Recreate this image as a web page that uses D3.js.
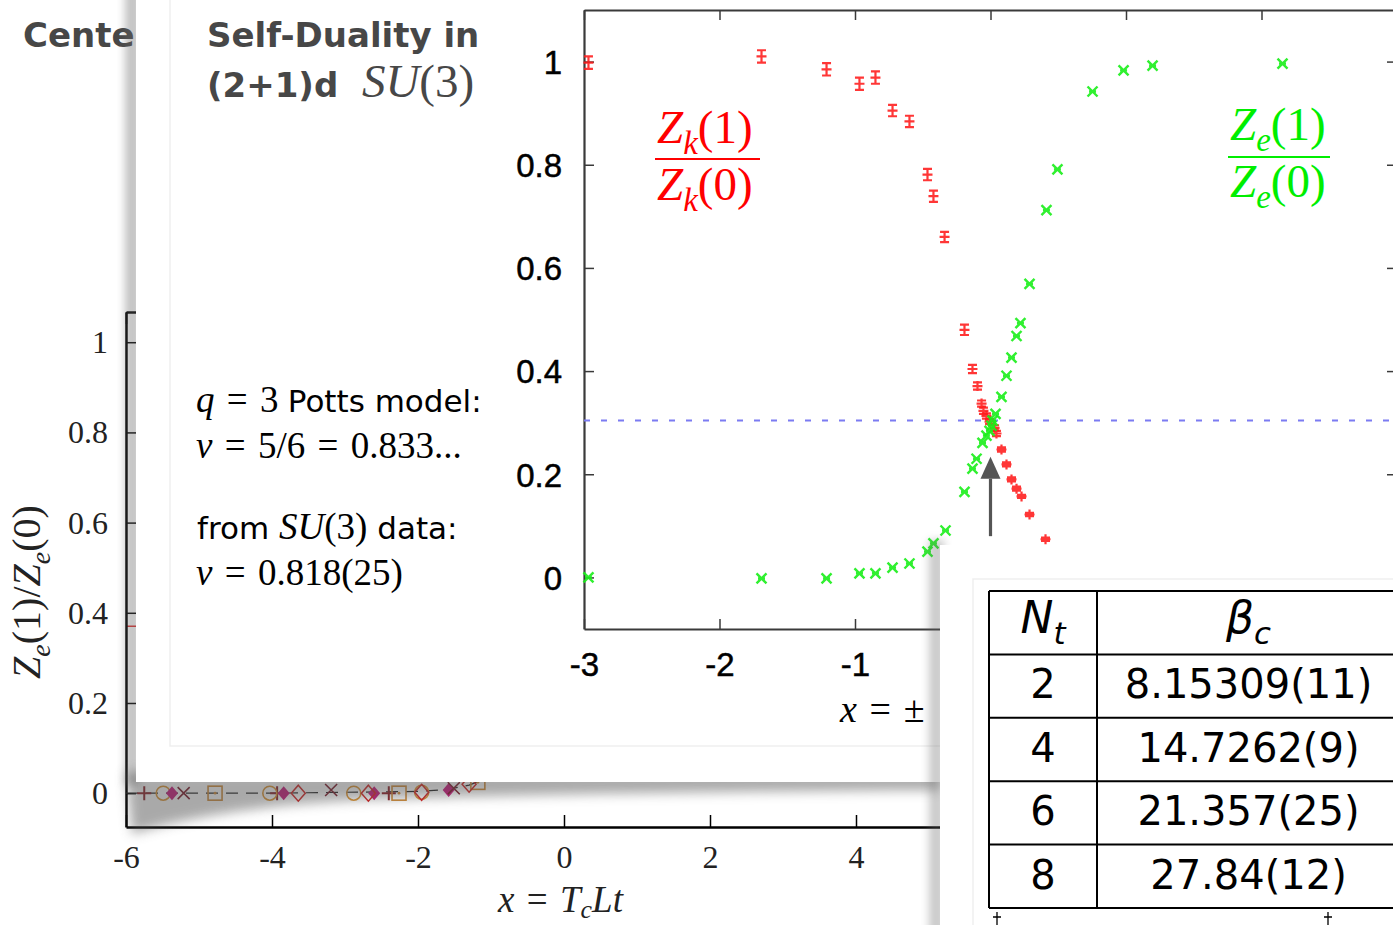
<!DOCTYPE html>
<html>
<head>
<meta charset="utf-8">
<script src="https://cdn.jsdelivr.net/npm/d3@7"></script>
<style>
body { margin: 0; background: #fff; }
svg { display: block; }
text { white-space: pre; }
</style>
</head>
<body>
<script>
const W = 1393, H = 925;

// ---- back slide: Z_e(1)/Z_e(0) against x = T_c L t (only the bottom-left corner shows)
const bgTicksX = [-6, -4, -2, 0, 2, 4, 6];
const bgTicksY = [0, 0.2, 0.4, 0.6, 0.8, 1];
const bgPlusX = [-5.75, -3.93, -2.40];
const bgPlusY = [0, 0, 0];
const bgCircleX = [-5.49, -4.03, -2.88, -1.95];
const bgCircleY = [0, 0, 0, 0.002];
const bgDiamondX = [-5.37, -3.84, -2.60, -1.58];
const bgDiamondY = [0, 0, 0, 0.007];
const bgCrossX = [-5.21, -3.19, -1.51];
const bgCrossY = [0, 0.007, 0.011];
const bgSquareX = [-4.78, -2.26, -1.18];
const bgSquareY = [0, 0, 0.024];
const bgOpenDiamondX = [-3.64, -2.68, -1.95, -1.30];
const bgOpenDiamondY = [0, 0, 0.002, 0.020];
const bgCurveX = [-6, -4, -3, -2.4, -2, -1.6, -1.3, -1.1];
const bgCurveY = [0, 0, 0.002, 0.003, 0.004, 0.008, 0.018, 0.03];
const bgRedLevel = 0.37;

// ---- middle slide: self-duality plot
const midTicksX = [-3, -2, -1, 0, 1, 2, 3];
const midTicksY = [0, 0.2, 0.4, 0.6, 0.8, 1];
const zkX = [-2.967, -1.690, -1.210, -0.967, -0.849, -0.723, -0.598, -0.465, -0.421, -0.339,
             -0.192, -0.133, -0.096, -0.066, -0.052, -0.030, -0.007, 0.030, 0.044, 0.081,
             0.118, 0.155, 0.192, 0.229, 0.288, 0.406];
const zkY = [0.998, 1.010, 0.985, 0.957, 0.969, 0.905, 0.884, 0.781, 0.739, 0.660,
             0.480, 0.404, 0.371, 0.337, 0.323, 0.313, 0.302, 0.290, 0.279, 0.248,
             0.219, 0.190, 0.172, 0.157, 0.122, 0.074];
const zkErr = [0.012, 0.012, 0.012, 0.012, 0.012, 0.011, 0.011, 0.011, 0.011, 0.010,
               0.010, 0.008, 0.007, 0.006, 0.006, 0.005, 0.005, 0.005, 0.005, 0.004,
               0.004, 0.004, 0.004, 0.003, 0.003, 0.003];
const zeX = [-2.967, -1.690, -1.210, -0.967, -0.849, -0.723, -0.598, -0.465, -0.421, -0.332,
             -0.192, -0.133, -0.103, -0.059, -0.030, -0.007, 0.007, 0.015, 0.037, 0.081,
             0.118, 0.155, 0.192, 0.221, 0.288, 0.413, 0.494, 0.753, 0.982, 1.196, 2.155];
const zeY = [0.000, -0.002, -0.002, 0.008, 0.008, 0.019, 0.027, 0.050, 0.066, 0.091,
             0.166, 0.211, 0.230, 0.261, 0.275, 0.284, 0.294, 0.304, 0.317, 0.350,
             0.391, 0.426, 0.468, 0.493, 0.569, 0.712, 0.791, 0.942, 0.983, 0.992, 0.996];
const pottsLevel = 0.304;
const arrowX = 0, arrowFrom = 0.08, arrowTo = 0.234;

// ---- front slide: table
const ntValues = ["2", "4", "6", "8"];
const betaValues = ["8.15309(11)", "14.7262(9)", "21.357(25)", "27.84(12)"];

const SERIF = "'Liberation Serif', 'DejaVu Serif', serif";
const SANS = "'DejaVu Sans', sans-serif";
const HELV = "'Liberation Sans', Arial, sans-serif";
const EQ = "\u2004=\u2004";   // TeX-like spacing around "="

const svg = d3.select("body").append("svg")
    .attr("width", W)
    .attr("height", H);

const defs = svg.append("defs");
[["blur4", 4], ["blur6", 6]].forEach(([id, s]) => {
    defs.append("filter").attr("id", id)
        .attr("x", "-50%").attr("y", "-50%").attr("width", "200%").attr("height", "200%")
        .append("feGaussianBlur").attr("stdDeviation", s);
});

// text made of pieces: {t, i (italic), sans, w (weight), sub, size}
function richText(g, x, y, parts, opts = {}) {
    const size = opts.size || 32;
    const shift = opts.shift || 0.24;
    const t = g.append("text")
        .attr("x", x).attr("y", y)
        .attr("fill", opts.fill || "#000")
        .attr("text-anchor", opts.anchor || "start")
        .attr("font-size", size);
    if (opts.transform) t.attr("transform", opts.transform);
    let shifted = false;
    parts.forEach(p => {
        const s = t.append("tspan").text(p.t)
            .attr("font-family", p.sans ? SANS : (p.helv ? HELV : SERIF))
            .attr("font-style", p.i ? "italic" : "normal")
            .attr("font-weight", p.w || "normal");
        if (p.size) s.attr("font-size", p.size);
        if (p.sub) {
            s.attr("font-size", size * 0.7);
            if (!shifted) s.attr("dy", size * shift);
            shifted = true;
        } else if (shifted) {
            s.attr("dy", -size * shift);
            shifted = false;
        }
    });
    return t;
}

// ================= BACK SLIDE =================
const back = svg.append("g");

back.append("text")
    .attr("x", 23).attr("y", 47)
    .attr("font-family", SANS).attr("font-weight", "bold")
    .attr("font-size", 34).attr("fill", "#474747")
    .text("Center");

const bx = d3.scaleLinear().domain([-6, 6]).range([126, 1002]);
const by = d3.scaleLinear().domain([-0.075, 1.067]).range([827, 312]);

back.append("line")
    .attr("x1", bx(-6)).attr("x2", bx(6))
    .attr("y1", by(bgRedLevel)).attr("y2", by(bgRedLevel))
    .attr("stroke", "#e03030").attr("stroke-width", 1.5);

const bgYAxis = back.append("g")
    .attr("transform", `translate(${bx(-6)},0)`)
    .call(d3.axisLeft(by).tickValues(bgTicksY).tickSize(-10).tickSizeOuter(0).tickPadding(18)
        .tickFormat(d => (d === 0 || d === 1) ? String(d) : d.toFixed(1)));
const bgXAxis = back.append("g")
    .attr("transform", `translate(0,${by.range()[0]})`)
    .call(d3.axisBottom(bx).tickValues(bgTicksX).tickSize(-12).tickSizeOuter(0).tickPadding(18)
        .tickFormat(d => d < 6 ? String(d) : ""));
const bgTopAxis = back.append("g")
    .attr("transform", `translate(0,${by.range()[1]})`)
    .call(d3.axisTop(bx).tickValues(bgTicksX).tickSize(-12).tickSizeOuter(0).tickFormat(""));

[bgYAxis, bgXAxis, bgTopAxis].forEach(a => {
    a.select(".domain").attr("stroke", "#000").attr("stroke-width", 2.5);
    a.selectAll(".tick line").attr("stroke", "#000").attr("stroke-width", 1.5);
    a.selectAll(".tick text")
        .attr("font-family", SERIF).attr("font-size", 32).attr("fill", "#222");
});
bgYAxis.selectAll(".tick text").attr("dy", "0.33em");

richText(back, 40, 592, [
    { t: "Z", i: true }, { t: "e", i: true, sub: true }, { t: "(1)/" },
    { t: "Z", i: true }, { t: "e", i: true, sub: true }, { t: "(0)" }
], { size: 40, anchor: "middle", transform: "rotate(-90,40,592)", fill: "#222" });

richText(back, 498, 912, [
    { t: "x", i: true }, { t: EQ }, { t: "T", i: true }, { t: "c", i: true, sub: true },
    { t: "L", i: true }, { t: "t", i: true }
], { size: 37, fill: "#222", shift: 0.15 });

back.append("path")
    .datum(d3.zip(bgCurveX, bgCurveY))
    .attr("fill", "none").attr("stroke", "#222").attr("stroke-width", 1.2)
    .attr("stroke-dasharray", "12,8")
    .attr("d", d3.line().x(d => bx(d[0])).y(d => by(d[1])));

function bgMarks(xs, ys, draw) {
    back.append("g").selectAll("g")
        .data(d3.zip(xs, ys))
        .join("g")
        .attr("transform", d => `translate(${bx(d[0])},${by(d[1])})`)
        .each(function () { draw(d3.select(this)); });
}
bgMarks(bgPlusX, bgPlusY, s => s.append("path").attr("d", "M-7,0H7M0,-7V7")
    .attr("stroke", "#8b1c24").attr("stroke-width", 2));
bgMarks(bgCircleX, bgCircleY, s => s.append("circle").attr("r", 7)
    .attr("fill", "none").attr("stroke", "#de9430").attr("stroke-width", 1.6));
bgMarks(bgDiamondX, bgDiamondY, s => s.append("path").attr("d", "M0,-7L6,0L0,7L-6,0Z")
    .attr("fill", "#c8157a"));
bgMarks(bgCrossX, bgCrossY, s => s.append("path").attr("d", "M-6,-6L6,6M-6,6L6,-6")
    .attr("stroke", "#7a1424").attr("stroke-width", 1.6));
bgMarks(bgSquareX, bgSquareY, s => {
    s.append("rect").attr("x", -7).attr("y", -7).attr("width", 14).attr("height", 14)
        .attr("fill", "none").attr("stroke", "#d08a36").attr("stroke-width", 1.6);
    s.append("circle").attr("r", 1.4).attr("fill", "#d08a36");
});
bgMarks(bgOpenDiamondX, bgOpenDiamondY, s => s.append("path").attr("d", "M0,-8L7,0L0,8L-7,0Z")
    .attr("fill", "none").attr("stroke", "#d42020").attr("stroke-width", 1.5));

// ================= MIDDLE SLIDE =================
const mid = svg.append("g");

// shadows of the lifted page (drawn over the back slide, under the page)
mid.append("rect").attr("x", 125).attr("y", -20).attr("width", 15).attr("height", 805)
    .attr("fill", "#666").attr("opacity", 0.4).attr("filter", "url(#blur4)");
mid.append("path")
    .attr("d", "M126,772L940,772L940,790C760,791 520,794 360,800C240,806 170,822 132,834Z")
    .attr("fill", "#555").attr("opacity", 0.5).attr("filter", "url(#blur6)");
mid.append("rect").attr("x", 136).attr("y", -10).attr("width", 1300).attr("height", 792)
    .attr("fill", "#fff");
mid.append("path").attr("d", "M170,0V746H1393")
    .attr("fill", "none").attr("stroke", "#efefef").attr("stroke-width", 1.5);

richText(mid, 207, 47, [{ t: "Self-Duality in", sans: true, w: "bold" }],
    { size: 34, fill: "#474747" });
richText(mid, 207, 97, [
    { t: "(2+1)d  ", sans: true, w: "bold" },
    { t: "SU", i: true, size: 47 }, { t: "(3)", size: 47 }
], { size: 34, fill: "#474747" });

richText(mid, 196, 412, [
    { t: "q", i: true }, { t: EQ + "3 " }, { t: "Potts model:", sans: true, size: 31 }
], { size: 37 });
richText(mid, 196, 458, [
    { t: "ν", i: true }, { t: EQ + "5/6" + EQ + "0.833..." }
], { size: 37 });
richText(mid, 197, 539, [
    { t: "from ", sans: true, size: 31 }, { t: "SU", i: true }, { t: "(3)" },
    { t: " data:", sans: true, size: 31 }
], { size: 37 });
richText(mid, 196, 585, [
    { t: "ν", i: true }, { t: EQ + "0.818(25)" }
], { size: 37 });

const mx = d3.scaleLinear().domain([-3, 3]).range([584, 1397]);
const my = d3.scaleLinear().domain([-0.1, 1.1]).range([629, 10]);

const midAxes = [
    mid.append("g").attr("transform", `translate(${mx.range()[0]},0)`)
        .call(d3.axisLeft(my).tickValues(midTicksY).tickSize(-10).tickSizeOuter(0).tickPadding(22)
            .tickFormat(d => (d === 0 || d === 1) ? String(d) : d.toFixed(1))),
    mid.append("g").attr("transform", `translate(${mx.range()[1]},0)`)
        .call(d3.axisRight(my).tickValues(midTicksY).tickSize(-10).tickSizeOuter(0).tickFormat("")),
    mid.append("g").attr("transform", `translate(0,${my.range()[0]})`)
        .call(d3.axisBottom(mx).tickValues(midTicksX).tickSize(-10).tickSizeOuter(0).tickPadding(24)
            .tickFormat(d => d < 0 ? String(d) : "")),   // the rest sits under the front slide
    mid.append("g").attr("transform", `translate(0,${my.range()[1]})`)
        .call(d3.axisTop(mx).tickValues(midTicksX).tickSize(-10).tickSizeOuter(0).tickFormat(""))
];
midAxes.forEach(a => {
    a.select(".domain").attr("stroke", "#3a3a3a").attr("stroke-width", 2.2);
    a.selectAll(".tick line").attr("stroke", "#3a3a3a").attr("stroke-width", 1.5);
    a.selectAll(".tick text")
        .attr("font-family", HELV).attr("font-size", 33).attr("fill", "#000")
        .attr("stroke", "#000").attr("stroke-width", 0.5);
});
midAxes[0].selectAll(".tick text").attr("dy", "0.36em");

richText(mid, 840, 722, [{ t: "x", i: true }, { t: EQ + "±" }], { size: 38 });

mid.append("line")
    .attr("x1", mx(-3)).attr("x2", mx(3))
    .attr("y1", my(pottsLevel)).attr("y2", my(pottsLevel))
    .attr("stroke", "#7b7bf2").attr("stroke-width", 2).attr("stroke-dasharray", "6,11");

// Z_k(1)/Z_k(0): red plus with error bars
mid.append("g").selectAll("path")
    .data(d3.range(zkX.length))
    .join("path")
    .attr("fill", "none").attr("stroke", "#ff1a1a").attr("stroke-width", 2.2).attr("opacity", 0.88)
    .attr("d", i => {
        const cx = mx(zkX[i]), cy = my(zkY[i]);
        const t = my(zkY[i] + zkErr[i]), b = my(zkY[i] - zkErr[i]);
        return `M${cx - 4.5},${t}H${cx + 4.5}M${cx - 4.5},${b}H${cx + 4.5}` +
            `M${cx},${Math.min(t, cy - 5)}V${Math.max(b, cy + 5)}M${cx - 5},${cy}H${cx + 5}`;
    });

// Z_e(1)/Z_e(0): green crosses
mid.append("g").selectAll("path")
    .data(d3.range(zeX.length))
    .join("path")
    .attr("fill", "none").attr("stroke", "#1aee1a").attr("stroke-width", 2.4).attr("opacity", 0.9)
    .attr("d", i => {
        const cx = mx(zeX[i]), cy = my(zeY[i]);
        return `M${cx - 5},${cy - 5}L${cx + 5},${cy + 5}M${cx - 5},${cy + 5}L${cx + 5},${cy - 5}` +
            `M${cx - 3.5},${cy}H${cx + 3.5}`;
    });

// arrow at the crossing point
const ax = mx(arrowX), aTip = my(arrowTo), aBase = my(arrowTo) + 22;
mid.append("line")
    .attr("x1", ax).attr("x2", ax).attr("y1", my(arrowFrom)).attr("y2", aBase)
    .attr("stroke", "#555").attr("stroke-width", 3.2);
mid.append("path")
    .attr("d", `M${ax},${aTip}L${ax + 10},${aBase}L${ax - 10},${aBase}Z`)
    .attr("fill", "#555");

// fraction labels
function fraction(g, x, yNum, yLine, yDen, len, sub, color) {
    richText(g, x, yNum, [{ t: "Z", i: true }, { t: sub, i: true, sub: true }, { t: "(1)" }],
        { size: 47, fill: color });
    g.append("line").attr("x1", x - 2).attr("x2", x - 2 + len).attr("y1", yLine).attr("y2", yLine)
        .attr("stroke", color).attr("stroke-width", 1.8);
    richText(g, x, yDen, [{ t: "Z", i: true }, { t: sub, i: true, sub: true }, { t: "(0)" }],
        { size: 47, fill: color });
}
fraction(mid, 657, 143, 159, 200, 105, "k", "#ff0000");
fraction(mid, 1230, 140, 157, 197, 102, "e", "#00ee00");

// ================= FRONT SLIDE =================
const front = svg.append("g");
front.append("rect").attr("x", 929).attr("y", 540).attr("width", 15).attr("height", 400)
    .attr("fill", "#666").attr("opacity", 0.35).attr("filter", "url(#blur4)");
front.append("rect").attr("x", 940).attr("y", 545).attr("width", 460).attr("height", 390)
    .attr("fill", "#fff");
front.append("path").attr("d", "M973,925V579H1393")
    .attr("fill", "none").attr("stroke", "#efefef").attr("stroke-width", 1.5);

const colX = [989, 1097, 1400];
const rowY = d3.scaleLinear().domain([0, ntValues.length + 1]).range([591, 908]);

const table = front.append("g");
table.selectAll("line.h")
    .data(d3.range(ntValues.length + 2))
    .join("line").attr("class", "h")
    .attr("x1", colX[0]).attr("x2", colX[2])
    .attr("y1", d => rowY(d)).attr("y2", d => rowY(d))
    .attr("stroke", "#000").attr("stroke-width", 2);
table.selectAll("line.v")
    .data(colX)
    .join("line").attr("class", "v")
    .attr("x1", d => d).attr("x2", d => d)
    .attr("y1", rowY(0)).attr("y2", rowY(ntValues.length + 1))
    .attr("stroke", "#000").attr("stroke-width", 2);

const c1 = (colX[0] + colX[1]) / 2, c2 = (colX[1] + colX[2]) / 2;
richText(table, c1, rowY(0) + 42, [{ t: "N", sans: true, i: true }, { t: "t", sans: true, i: true, sub: true }],
    { size: 44, anchor: "middle" });
richText(table, c2, rowY(0) + 42, [{ t: "β", sans: true, i: true }, { t: "c", sans: true, i: true, sub: true }],
    { size: 44, anchor: "middle" });
table.selectAll("text.nt")
    .data(ntValues)
    .join("text").attr("class", "nt")
    .attr("x", c1).attr("y", (d, i) => rowY(i + 1) + 44)
    .attr("text-anchor", "middle").attr("font-family", SANS).attr("font-size", 40)
    .text(d => d);
table.selectAll("text.beta")
    .data(betaValues)
    .join("text").attr("class", "beta")
    .attr("x", c2).attr("y", (d, i) => rowY(i + 1) + 44)
    .attr("text-anchor", "middle").attr("font-family", SANS).attr("font-size", 40)
    .text(d => d);

// tick marks of the plot that starts below the table
front.append("g").selectAll("path")
    .data([997, 1328])
    .join("path")
    .attr("d", d => `M${d},912V925M${d - 4},917H${d + 4}`)
    .attr("stroke", "#000").attr("stroke-width", 1.3);
</script>
</body>
</html>
